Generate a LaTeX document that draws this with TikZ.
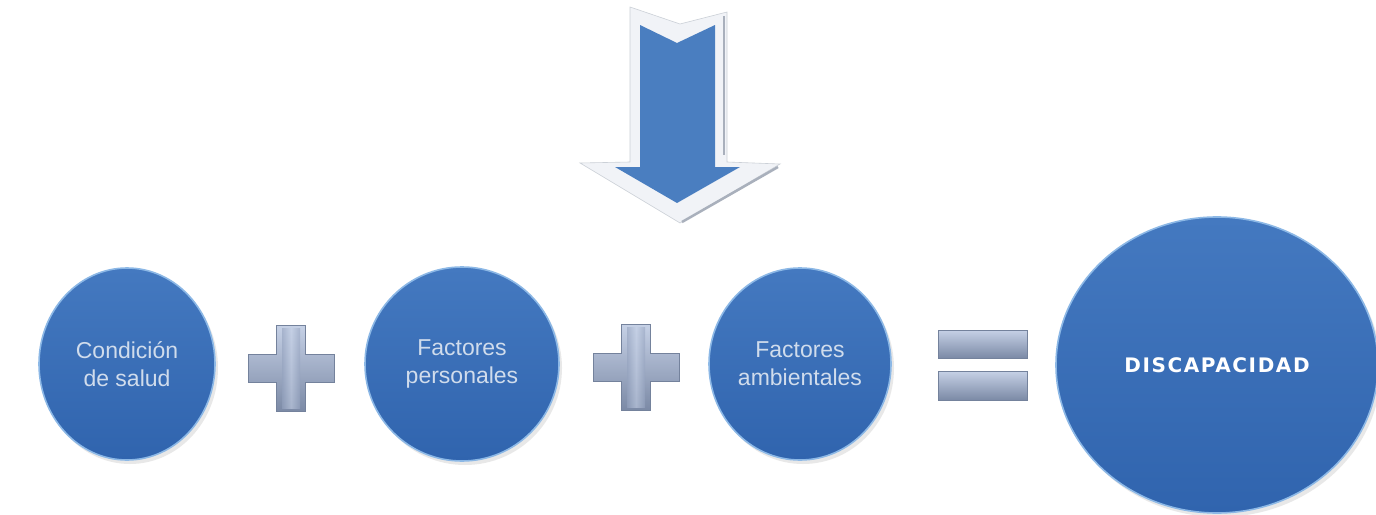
\documentclass[tikz,border=0pt]{standalone}
\usepackage{fontspec}
\setmainfont{Liberation Sans}
\newfontfamily\heavyfont{DejaVu Sans}
\usetikzlibrary{shapes.geometric}
\definecolor{blueA}{HTML}{4479C0}
\definecolor{blueB}{HTML}{3064AE}
\definecolor{rimblue}{HTML}{8CB8E6}
\definecolor{txtc}{HTML}{D0DCEC}
\definecolor{signA}{HTML}{8999B8}
\definecolor{signB}{HTML}{C6D1E6}
\definecolor{arrowblue}{HTML}{4A7EC0}
\definecolor{arrowpale}{HTML}{F1F3F7}
\definecolor{arrowgray}{HTML}{A9B0BC}
\tikzset{
  circ/.style={ellipse, draw=rimblue, line width=1.6pt, top color=blueA, bottom color=blueB,
    text=txtc, align=center, inner sep=0pt, font=\fontsize{23}{28}\selectfont},
  shadowc/.style={ellipse, fill=black!25, opacity=0.35, inner sep=0pt},
  signv/.style={draw=signA!85!black, line width=0.6pt, top color=signB, bottom color=signA!90!black},
  signh/.style={left color=signA!90, right color=signA!90, middle color=signB}
}
\begin{document}
\begin{tikzpicture}[x=1pt,y=-1pt]
\useasboundingbox (0,0) rectangle (1376,514);
\fill[white] (0,0) rectangle (1376,514);
% arrow
\fill[arrowpale, draw=arrowgray!60, line width=0.6pt] (630,7) -- (680,24) -- (727,12) -- (727,162) -- (780,164) -- (680,223) -- (580,163) -- (630,162) -- cycle;
\draw[arrowgray, line width=2pt] (724,16) -- (724,155);
\draw[arrowgray, line width=2.5pt] (778,167) -- (682,222);
\fill[arrowblue] (640,25) -- (677,43) -- (715,25) -- (715,167) -- (740,167) -- (677,203) -- (615,167) -- (640,167) -- cycle;
% shadows
\node[shadowc, minimum width=176pt, minimum height=192pt] at (130,368) {};
\node[shadowc, minimum width=194pt, minimum height=194pt] at (465,368) {};
\node[shadowc, minimum width=182pt, minimum height=192pt] at (803,368) {};
\node[shadowc, minimum width=322pt, minimum height=296pt] at (1220,369) {};
% circles
\node[circ, minimum width=176pt, minimum height=192pt] (c1) at (127,364) {Condición\\de salud};
\node[circ, minimum width=194pt, minimum height=194pt] (c2) at (462,364) {Factores\\personales};
\node[circ, minimum width=182pt, minimum height=192pt] (c3) at (800,364) {Factores\\ambientales};
\node[circ, minimum width=322pt, minimum height=296pt, font=\heavyfont\fontsize{20}{24}\selectfont\bfseries\addfontfeature{LetterSpace=8}, text=white] (c4) at (1217,365) {DISCAPACIDAD};
% plus signs
\coordinate (p1) at (291,368);
\coordinate (p2) at (636,367);
\foreach \p in {p1,p2}{
  \path[signv] ([shift={(-14.5,-43)}]\p) -- ([shift={(14.5,-43)}]\p) -- ([shift={(14.5,-14)}]\p)
    -- ([shift={(43,-14)}]\p) -- ([shift={(43,14)}]\p) -- ([shift={(14.5,14)}]\p)
    -- ([shift={(14.5,43)}]\p) -- ([shift={(-14.5,43)}]\p) -- ([shift={(-14.5,14)}]\p)
    -- ([shift={(-43,14)}]\p) -- ([shift={(-43,-14)}]\p) -- ([shift={(-14.5,-14)}]\p) -- cycle;
  \path[signh, opacity=0.6] ([shift={(-9,-40)}]\p) rectangle ([shift={(9,40)}]\p);
}
% equals
\path[signv] (938,330) rectangle (1027,358);
\path[signv] (938,371) rectangle (1027,400);
\end{tikzpicture}
\end{document}
